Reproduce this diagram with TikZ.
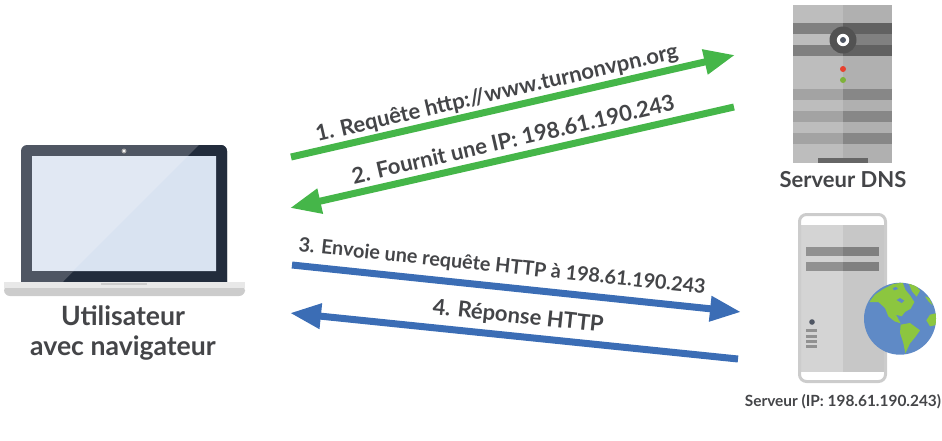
\documentclass[tikz,border=0pt]{standalone}
\usepackage{fontspec}
\setmainfont{Lato}
\usepackage{xcolor}
\usetikzlibrary{arrows.meta}
\definecolor{LabelGrey}{HTML}{444548}
\definecolor{FlowGreen}{HTML}{45B649}
\definecolor{FlowBlue}{HTML}{3B6DB5}
\definecolor{LidLight}{HTML}{4F5663}
\definecolor{LidDark}{HTML}{222C3C}
\definecolor{ScreenLight}{HTML}{E1E8F3}
\definecolor{ScreenDark}{HTML}{D9E3F1}
\definecolor{SeaBlue}{HTML}{5F8AC6}
\definecolor{LandGreen}{HTML}{8CC63F}
\definecolor{LedRed}{HTML}{E8412F}
\tikzset{
  flowgreen/.style={draw=FlowGreen, line width=7pt, -{Triangle[length=31pt,width=24pt]}},
  flowblue/.style={draw=FlowBlue, line width=7pt, -{Triangle[length=31pt,width=24pt]}},
  flowlabel/.style={text=LabelGrey, font=\bfseries\fontsize{22}{25}\selectfont, inner sep=0pt},
  devicelabel/.style={text=LabelGrey, font=\bfseries\fontsize{22}{25}\selectfont, inner sep=0pt},
  userlabel/.style={text=LabelGrey, font=\bfseries\fontsize{26.6}{30}\selectfont, inner sep=0pt},
  smalllabel/.style={text=LabelGrey, font=\bfseries\fontsize{15.4}{18}\selectfont, inner sep=0pt}
}

\begin{document}
\begin{tikzpicture}[x=1pt, y=-1pt]
  \useasboundingbox (0,0) rectangle (942,440);

  % laptop
  \fill[LidLight, rounded corners=6pt] (21,145) rectangle (227,290);
  \fill[LidDark] (199,145) -- (221,145) arc[start angle=-90, end angle=0, radius=6] -- (227,282) -- (63,282) -- cycle;
  \fill[ScreenLight] (32,156) rectangle (216,271);
  \fill[ScreenDark] (188,156) -- (216,156) -- (216,271) -- (73,271) -- cycle;
  \fill[gray!70] (124,151) circle (2.5);
  \fill[white] (124,151) circle (1.3);
  \fill[black!20, rounded corners=6pt] (4,285) rectangle (245,296);
  \fill[black!9] (4,282) rectangle (245,288);
  \fill[black!20] (101,283) rectangle (147,285);
  \node[userlabel, align=center] (user) at (123,333.5) {Utilisateur\\avec navigateur};

  % dns server
  \fill[black!26] (793,5) rectangle (843,163);
  \fill[black!31] (843,5) rectangle (892,163);
  \fill[black!50] (793,23) rectangle (843,34);
  \fill[black!62] (843,23) rectangle (892,34);
  \fill[black!50] (843,34) rectangle (892,45);
  \fill[black!50] (793,45) rectangle (843,56);
  \fill[black!62] (843,45) rectangle (892,56);
  \foreach \bandy in {89,111,133} {
    \fill[black!36] (793,\bandy) rectangle (843,\bandy+11);
    \fill[black!47] (843,\bandy) rectangle (892,\bandy+11);
  }
  \fill[black!60] (818,158) rectangle (868,163);
  \fill[black!68] (843,40) circle (13.5);
  \fill[white] (843,40) circle (6.2);
  \fill[LidLight] (843,40) circle (3);
  \fill[LedRed] (843,69) circle (3);
  \fill[LandGreen!90!black] (843,80) circle (3);
  \node[devicelabel] (dns) at (843,180) {Serveur DNS};

  % web server
  \fill[black!17] (798,225) rectangle (843,372);
  \fill[black!22] (843,225) rectangle (887,372);
  \draw[black!20, line width=3pt, rounded corners=7pt] (799.5,214.5) rectangle (885.5,381.5);
  \foreach \bary in {247,262} {
    \fill[black!43] (806,\bary) rectangle (843,\bary+9);
    \fill[black!50] (843,\bary) rectangle (879,\bary+9);
  }
  \fill[LidLight] (812,322) circle (2.8);
  \foreach \ledy in {329,335,340,345} {
    \fill[black!43] (806,\ledy) rectangle (817,\ledy+3.2);
  }
  \node[smalllabel] (web) at (843,402) {Serveur (IP: 198.61.190.243)};

  % globe
  \fill[SeaBlue] (900,318.7) circle (36);
  \begin{scope}[shift={(860,278)}, scale=1/3]
    \clip (120,122) circle (108);
    \fill[LandGreen] (28,72) -- (45,50) -- (70,33) -- (100,18) -- (128,14) -- (136,35) -- (150,52) -- (163,72)
      -- (152,92) -- (135,102) -- (125,115) -- (108,110) -- (122,136) -- (104,130) -- (85,115) -- (75,90) -- (55,72) -- cycle;
    \fill[SeaBlue] (110,66) -- (120,60) -- (133,68) -- (125,75) -- cycle;
    \fill[SeaBlue] (98,30) -- (108,27) -- (114,33) -- (102,37) -- cycle;
    \fill[LandGreen] (146,16) -- (165,20) -- (180,38) -- (170,56) -- (156,40) -- cycle;
    \fill[LandGreen] (122,140) -- (150,135) -- (180,157) -- (165,178) -- (150,196) -- (136,226) -- (130,195) -- (120,165) -- cycle;
    \fill[LandGreen] (232,105) -- (210,110) -- (199,127) -- (210,145) -- (232,140) -- cycle;
    \fill[LandGreen] (195,55) -- (208,60) -- (218,82) -- (205,70) -- cycle;
  \end{scope}

  % flows
  \coordinate (reqstart) at (291,157);
  \coordinate (reqend) at (735,55);
  \coordinate (ipstart) at (734,107);
  \coordinate (ipend) at (290,208);
  \coordinate (httpstart) at (292,265);
  \coordinate (httpend) at (741,312);
  \coordinate (respstart) at (738,359);
  \coordinate (respend) at (290,313);
  \draw[flowgreen] (reqstart) -- (reqend);
  \draw[flowgreen] (ipstart) -- (ipend);
  \draw[flowblue] (httpstart) -- (httpend);
  \draw[flowblue] (respstart) -- (respend);
  \node[flowlabel, rotate=13] (reqlabel) at (497,94) {1. Requête http://www.turnonvpn.org};
  \node[flowlabel, rotate=13] (iplabel) at (513,139) {2. Fournit une IP: 198.61.190.243};
  \node[flowlabel, rotate=-6, font=\bfseries\fontsize{19.8}{23}\selectfont] (httplabel) at (502,267) {3. Envoie une requête HTTP à 198.61.190.243};
  \node[flowlabel, rotate=-6] (resplabel) at (518,317) {4. Réponse HTTP};
\end{tikzpicture}
\end{document}
